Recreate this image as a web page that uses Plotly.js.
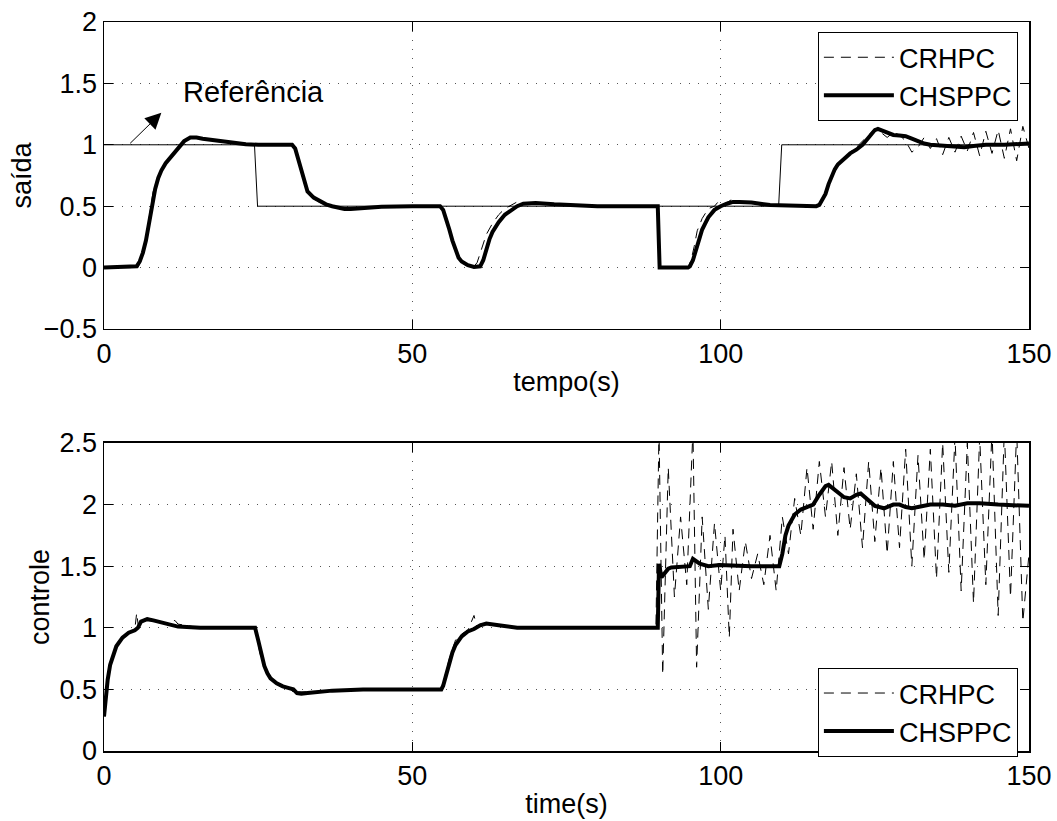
<!DOCTYPE html>
<html>
<head>
<meta charset="utf-8">
<script src="https://cdn.plot.ly/plotly-3.0.1.min.js"></script>
<style>html,body{margin:0;padding:0;background:#fff;}#chart{width:1057px;height:821px;}</style>
</head>
<body>
<div id="chart"></div>
<script>
// ---------- top plot: saída ----------
const tRef = [0, 24.4, 24.9, 109.4, 109.9, 150];
const yRef = [1, 1, 0.5, 0.5, 1, 1];

const tOutCH = [0,5.3,5.8,6.3,6.8,7.3,7.8,8.3,8.8,9.3,10,11,12,13,14,15,16,18,20,23,25,30.5,31,31.5,32,32.5,33,34,35,36,37,38,39,40,42,45,50,54.5,55,55.5,56,56.5,57,57.5,58,59,60,61,61.5,62,62.5,63,64,65,66,67,68,69,70,73,77,80,89.8,90.1,94.7,95,95.5,96,96.5,97,97.5,98,99,100,101,102,103,105,108,111,114,115.5,116,116.5,117,117.5,118,118.5,119,120,121,122,123,124,124.5,125,125.5,126,127,128,129,130,131,132,133,134,136,138,139.5,141,143,146,150];
const yOutCH = [0,0.01,0.05,0.12,0.22,0.36,0.52,0.64,0.73,0.79,0.85,0.91,0.97,1.03,1.06,1.06,1.05,1.035,1.02,1.005,1,1,0.97,0.88,0.78,0.69,0.62,0.57,0.54,0.515,0.5,0.485,0.478,0.478,0.485,0.495,0.5,0.5,0.47,0.4,0.31,0.22,0.14,0.08,0.05,0.02,0.005,0.01,0.06,0.15,0.23,0.29,0.37,0.43,0.47,0.5,0.52,0.525,0.525,0.515,0.505,0.5,0.5,0,0,0.01,0.06,0.15,0.24,0.31,0.36,0.41,0.47,0.5,0.52,0.535,0.535,0.53,0.51,0.505,0.5,0.5,0.51,0.55,0.6,0.68,0.75,0.8,0.84,0.89,0.93,0.96,1.0,1.06,1.09,1.12,1.13,1.12,1.1,1.08,1.075,1.07,1.05,1.03,1.01,1.0,0.99,0.98,0.98,0.99,1.0,1.0,1.01];

const tOutRH = [0,5.5,6,7,8,9,10,11,12,13,14,16,20,25,30.5,31,32,33,34,35,37,39,42,50,54.5,55.5,56.5,57.5,59,60,60.5,61,61.5,62,63,64,65,66,67,68,70,77,89.8,90.1,94.7,95.2,95.7,96.2,97,97.5,98,99,99.5,100,101,102,103,105,107,108,111,112,114,115,116,117,118,119,120,121,122,123,124,125,126,127,128,129,130,131,132,133,134,135,136,137,138,139,140,141,142,143,144,145,146,147,148,149,150];
const yOutRH = [0,0,0.06,0.3,0.63,0.77,0.86,0.92,0.98,1.03,1.06,1.05,1.02,1,1,0.96,0.77,0.61,0.56,0.53,0.5,0.475,0.485,0.5,0.5,0.41,0.2,0.07,0.02,0.01,0.04,0.12,0.2,0.27,0.36,0.43,0.48,0.51,0.535,0.53,0.525,0.505,0.5,0,0,0.06,0.17,0.3,0.4,0.44,0.48,0.5,0.53,0.5,0.53,0.56,0.54,0.53,0.5,0.51,0.5,0.5,0.49,0.5,0.52,0.6,0.73,0.83,0.88,0.94,0.98,1.03,1.08,1.13,1.1,1.06,1.1,1.08,1.03,0.94,0.98,1.06,0.97,1.05,0.92,1.06,0.94,1.07,0.95,1.1,0.91,1.11,0.93,1.12,0.89,1.13,0.87,1.15,0.97];

// ---------- bottom plot: controle ----------
const tCtlCH = [0,0.3,0.6,1,1.5,2,3,4,5,5.5,6,7,8,10.2,12,15.6,24.5,25,25.5,26,26.5,27,28,29,30,30.7,31.3,32,33,34.5,37,40,42,54.7,55,55.5,56,56.5,57,58,59,60,61,62,64,67,89.8,90,90.4,91,91.5,92,94,95,95.5,96.6,98,99.8,105,109.5,110,110.5,111,112,113,114,115,116,117,117.5,118,119,120,121,122,122.7,124,125,126.5,128,129,130,131,132,134,136,138,140,142,145,150];
const uCtlCH = [0.28,0.45,0.58,0.7,0.79,0.85,0.92,0.96,0.98,1.0,1.05,1.07,1.06,1.03,1.01,1.0,1.0,0.9,0.78,0.69,0.63,0.59,0.55,0.525,0.51,0.5,0.47,0.465,0.47,0.48,0.49,0.495,0.5,0.5,0.53,0.62,0.72,0.8,0.86,0.93,0.97,0.99,1.02,1.035,1.02,1.0,1.0,1.52,1.41,1.45,1.48,1.49,1.5,1.5,1.56,1.52,1.5,1.51,1.5,1.5,1.6,1.75,1.83,1.92,1.96,1.98,2.0,2.08,2.15,2.16,2.14,2.1,2.06,2.05,2.08,2.09,2.03,1.99,1.97,2.0,2.0,1.98,1.97,1.98,2.0,2.0,1.99,2.01,2.01,2.0,1.99];

const tCtlRH = [0,1,2,3.5,5,5.3,5.6,7,10,11.5,12,15.6,24.5,25.3,26.4,28,30.2,31,31.5,34.5,40,45,54.5,55,56,57,58,59,60,60.5,61,62,64,67,89.5,
  90,90.6,91.5,92.5,93.5,94.5,95.5,96.1,97,98,99,100,100.7,101.4,102,103,104,105,106,107,108,109,
  110,111,112,113,114,115,116,117,118,119,120,121,122,123,124,125,126,127,128,129,
  130,131,132,133,134,135,136,137,138,139,140,141,142,143,144,145,146,147,148,149,150];
const uCtlRH = [0.28,0.72,0.86,0.94,0.99,1.12,1.0,1.08,1.03,1.06,1.03,1.0,1.0,0.79,0.64,0.55,0.51,0.45,0.48,0.48,0.49,0.5,0.5,0.55,0.75,0.9,0.95,0.98,1.1,1.0,1.03,1.04,1.02,1.0,1.0,
  2.6,0.62,2.3,1.25,1.9,1.35,2.6,0.68,1.9,1.15,1.85,1.3,1.75,0.92,1.8,1.3,1.7,1.4,1.6,1.35,1.75,1.3,
  1.9,1.6,2.05,1.75,2.3,1.8,2.35,1.9,2.35,1.75,2.3,1.8,2.25,1.65,2.35,1.7,2.3,1.6,2.35,1.65,
  2.45,1.5,2.4,1.55,2.45,1.4,2.5,1.45,2.55,1.3,2.5,1.2,2.55,1.35,2.6,1.1,2.6,1.25,2.6,1.05,1.6];

const legendNames = ['CRHPC', 'CHSPPC'];
const xTicks = [0, 50, 100, 150];
const yTicksTop = [-0.5, 0, 0.5, 1, 1.5, 2];
const yTicksBot = [0, 0.5, 1, 1.5, 2, 2.5];

const FONT = 'Liberation Sans, Arial, Helvetica, sans-serif';
const FS = 27;
const dashPat = '10px,7px';

const traces = [
  {x: tRef, y: yRef, xaxis: 'x', yaxis: 'y', mode: 'lines', line: {color: '#000', width: 1}, showlegend: false, hoverinfo: 'skip'},
  {x: tOutRH, y: yOutRH, xaxis: 'x', yaxis: 'y', mode: 'lines', name: legendNames[0], line: {color: '#000', width: 1, dash: dashPat}, legend: 'legend'},
  {x: tOutCH, y: yOutCH, xaxis: 'x', yaxis: 'y', mode: 'lines', name: legendNames[1], line: {color: '#000', width: 4}, legend: 'legend'},
  {x: tCtlRH, y: uCtlRH, xaxis: 'x2', yaxis: 'y2', mode: 'lines', name: legendNames[0], line: {color: '#000', width: 1, dash: dashPat}, legend: 'legend2'},
  {x: tCtlCH, y: uCtlCH, xaxis: 'x2', yaxis: 'y2', mode: 'lines', name: legendNames[1], line: {color: '#000', width: 4}, legend: 'legend2'}
];

function xax(anchor, title) {
  return {
    anchor: anchor, domain: [0, 1], range: [0, 150], tickvals: xTicks, ticktext: xTicks.map(String),
    ticks: 'inside', ticklen: 9, tickwidth: 1, tickcolor: '#000', mirror: 'ticks', showline: true, linecolor: '#000', linewidth: 1.5,
    showgrid: true, gridcolor: '#555', gridwidth: 1, griddash: '1px,8px', zeroline: false,
    tickfont: {family: FONT, size: FS, color: '#000'},
    title: {text: title, font: {family: FONT, size: FS, color: '#000'}, standoff: 4}
  };
}
function yax(anchor, dom, rng, vals, title, so) {
  return {
    anchor: anchor, domain: dom, range: rng, tickvals: vals, ticktext: vals.map(v => String(v).replace('-', '\u2212')),
    ticks: 'inside', ticklen: 9, tickwidth: 1, tickcolor: '#000', mirror: 'ticks', showline: true, linecolor: '#000', linewidth: 1.5,
    showgrid: true, gridcolor: '#555', gridwidth: 1, griddash: '1px,8px', zeroline: false,
    tickfont: {family: FONT, size: FS, color: '#000'},
    title: {text: title, font: {family: FONT, size: FS, color: '#000'}, standoff: so}
  };
}
function leg(y) {
  return {x: 0.988, xanchor: 'right', y: y, yanchor: 'top', bgcolor: '#fff', bordercolor: '#000', borderwidth: 1,
    font: {family: FONT, size: 27, color: '#000'}, itemwidth: 70,
    tracegroupgap: 0, traceorder: 'normal'};
}

const layout = {
  width: 1057, height: 821,
  margin: {l: 104, r: 28, t: 22, b: 70},
  paper_bgcolor: '#fff', plot_bgcolor: '#fff',
  font: {family: FONT, size: FS, color: '#000'},
  xaxis: xax('y', 'tempo(s)'),
  yaxis: yax('x', [0.5789, 1], [-0.5, 2], yTicksTop, 'saída', 4),
  xaxis2: xax('y2', 'time(s)'),
  yaxis2: yax('x2', [0, 0.4225], [0, 2.5], yTicksBot, 'controle', 2),
  legend: leg(0.986),
  legend2: leg(0.1139),
  annotations: [
    {xref: 'x', yref: 'y', x: 9.3, y: 1.26, axref: 'x', ayref: 'y', ax: 4, ay: 1.0, text: '', showarrow: true,
     arrowhead: 2, arrowsize: 3.2, arrowwidth: 1, arrowcolor: '#000', standoff: 0, startstandoff: 0},
    {xref: 'x', yref: 'y', x: 24.3, y: 1.43, text: 'Referência', showarrow: false,
     font: {family: FONT, size: 29, color: '#000'}}
  ]
};

Plotly.newPlot('chart', traces, layout, {displayModeBar: false, staticPlot: true});
</script>
</body>
</html>
